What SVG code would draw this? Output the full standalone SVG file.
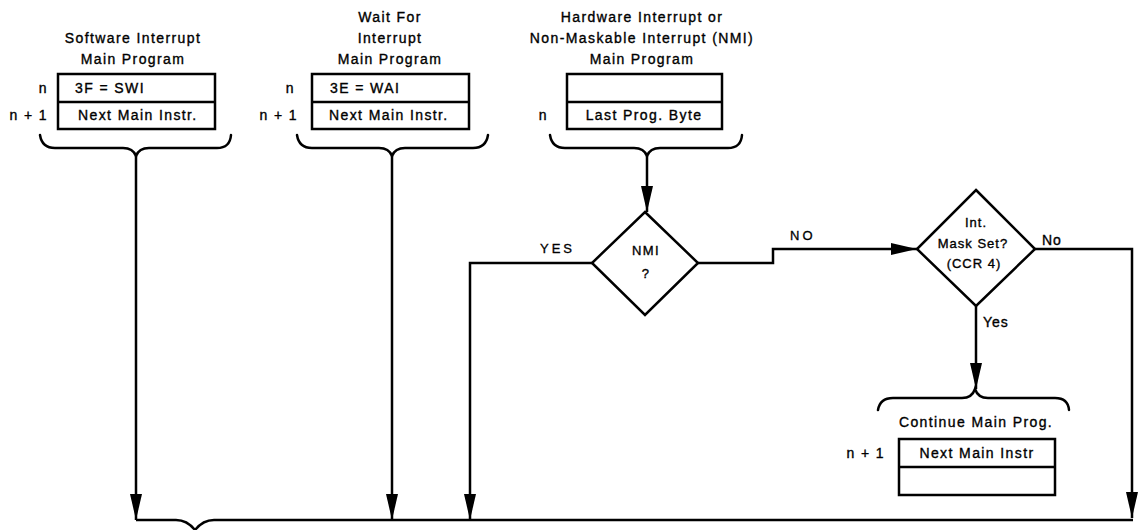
<svg xmlns="http://www.w3.org/2000/svg" width="1139" height="530" viewBox="0 0 1139 530">
<defs>
<style>
.t{font-family:"Liberation Sans",Arial,sans-serif;font-size:14px;letter-spacing:1.4px;fill:#000;stroke:#000;stroke-width:0.35}
.m{text-anchor:middle}
.e{text-anchor:end}
.c{font-family:"Liberation Sans",Arial,sans-serif;font-size:13px;letter-spacing:3px;fill:#000;stroke:#000;stroke-width:0.3}
.box{fill:#fff;stroke:#000;stroke-width:2.5}
.ln{fill:none;stroke:#000;stroke-width:2.5}
.br{fill:none;stroke:#000;stroke-width:2.5;stroke-linecap:round}
</style>
<marker id="ah" markerUnits="userSpaceOnUse" markerWidth="26" markerHeight="12" refX="26" refY="6" orient="auto">
<path d="M0,0 L26,6 L0,12 z" fill="#000"/>
</marker>
</defs>
<rect width="1139" height="530" fill="#fff"/>

<g id="swi">
<text class="t m" x="133" y="43">Software Interrupt</text>
<text class="t m" x="133" y="64">Main Program</text>
<rect class="box" x="58" y="74" width="157" height="55"/>
<line class="ln" x1="58" y1="102" x2="215" y2="102"/>
<text class="t" x="75" y="93">3F = SWI</text>
<text class="t" x="78" y="120">Next Main Instr.</text>
<text class="t e" x="48" y="93">n</text>
<text class="t e" x="48" y="120">n + 1</text>
<path class="br" d="M40,135 Q42,148 55,148 L123,148 Q133,148 136,156 Q139,148 149,148 L217,148 Q230,148 231,135"/>
</g>

<g id="wai">
<text class="t m" x="390" y="22">Wait For</text>
<text class="t m" x="390" y="43">Interrupt</text>
<text class="t m" x="390" y="64">Main Program</text>
<rect class="box" x="312" y="74" width="157" height="55"/>
<line class="ln" x1="312" y1="102" x2="469" y2="102"/>
<text class="t" x="330" y="93">3E = WAI</text>
<text class="t" x="329" y="120">Next Main Instr.</text>
<text class="t e" x="295" y="93">n</text>
<text class="t e" x="298" y="120">n + 1</text>
<path class="br" d="M297,135 Q299,148 312,148 L379,148 Q389,148 392,156 Q395,148 405,148 L473,148 Q486,148 488,135"/>
</g>

<g id="hw">
<text class="t m" x="642" y="22">Hardware Interrupt or</text>
<text class="t m" x="642" y="43">Non-Maskable Interrupt (NMI)</text>
<text class="t m" x="642" y="64">Main Program</text>
<rect class="box" x="567" y="74" width="155" height="55"/>
<line class="ln" x1="567" y1="102" x2="722" y2="102"/>
<text class="t m" x="644" y="120">Last Prog. Byte</text>
<text class="t e" x="548" y="120">n</text>
<path class="br" d="M550,135 Q552,148 565,148 L634,148 Q644,148 647,156 Q650,148 660,148 L728,148 Q741,148 742,135"/>
</g>

<g id="nmi">
<polygon class="box" points="645,212 698,263 645,315 592,263"/>
<text class="t m" x="646" y="255" style="font-size:13px">NMI</text>
<text class="t m" x="646" y="278" style="font-size:13px">?</text>
</g>

<g id="mask">
<polygon class="box" points="976,190 1035,249 976,306 917,249"/>
<text class="t m" x="976" y="227" style="font-size:13px;letter-spacing:1px">Int.</text>
<text class="t m" x="973" y="248" style="font-size:13px;letter-spacing:1px">Mask Set?</text>
<text class="t m" x="974" y="268" style="font-size:13px;letter-spacing:1px">(CCR 4)</text>
</g>

<g id="cont">
<path class="br" d="M878,410 Q880,398 893,398 L962,398 Q972,398 975,389 Q978,398 988,398 L1055,398 Q1068,398 1069,410"/>
<text class="t m" x="976" y="427">Continue Main Prog.</text>
<rect class="box" x="899" y="439" width="156" height="56"/>
<line class="ln" x1="899" y1="467" x2="1055" y2="467"/>
<text class="t m" x="977" y="458">Next Main Instr</text>
<text class="t e" x="885" y="458">n + 1</text>
</g>

<g id="connectors">
<path class="ln" d="M136,156 V520" marker-end="url(#ah)"/>
<path class="ln" d="M392,156 V520" marker-end="url(#ah)"/>
<path class="ln" d="M647,156 V212" marker-end="url(#ah)"/>
<path class="ln" d="M592,263 H470 V520" marker-end="url(#ah)"/>
<path class="ln" d="M698,263 H773 V249 H917" marker-end="url(#ah)"/>
<path class="ln" d="M1035,249 H1132 V518" marker-end="url(#ah)"/>
<path class="ln" d="M976,306 V389" marker-end="url(#ah)"/>
<path class="ln" d="M136,520 H176 Q187,520 195,530 Q203,520 214,520 H1133"/>
<text class="c" x="540" y="253">YES</text>
<text class="c" x="790" y="240">NO</text>
<text class="t" x="1042" y="245" style="letter-spacing:1px">No</text>
<text class="t" x="983" y="327" style="letter-spacing:1px">Yes</text>
</g>
</svg>
